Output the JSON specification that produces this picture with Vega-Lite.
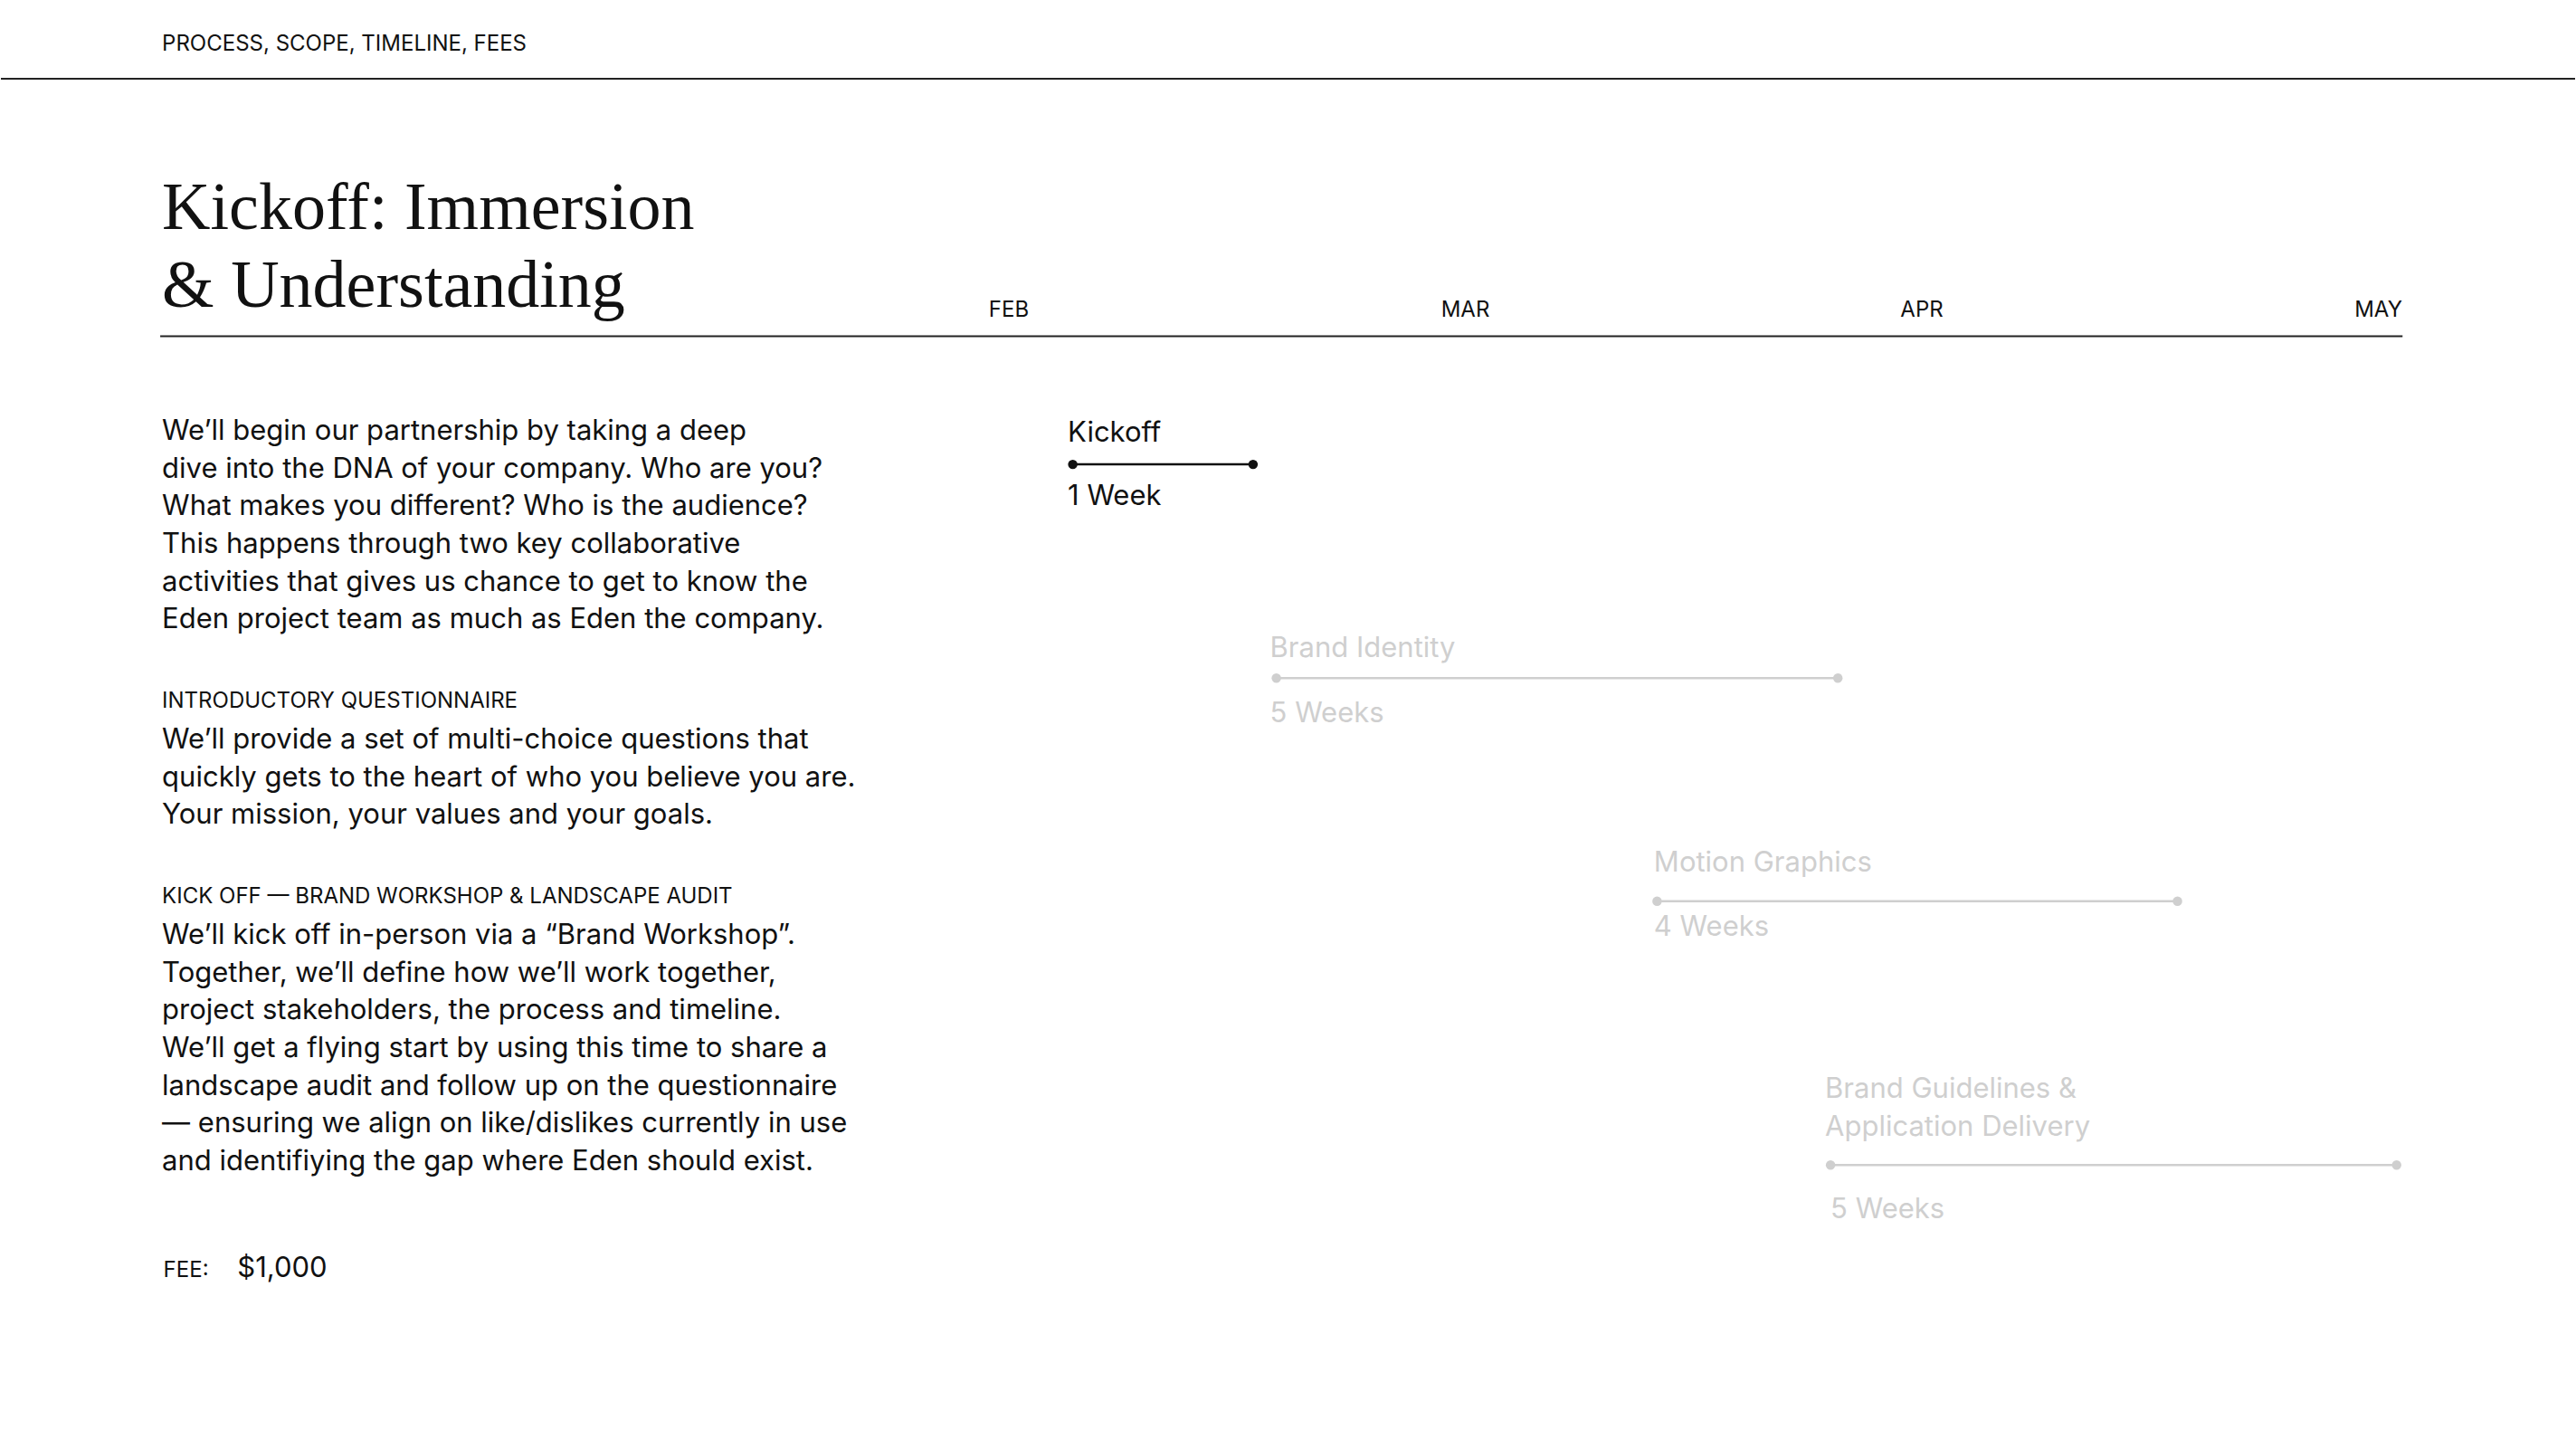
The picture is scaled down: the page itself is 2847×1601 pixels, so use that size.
{
"$schema":"https://vega.github.io/schema/vega-lite/v6.json",
"width":2847,"height":1601,"padding":0,
"autosize":{"type":"fit","contains":"padding"},
"config":{"view":{"stroke":null},"text":{"font":"Inter"}},
"datasets":{
"body":[
{"x":-1.855,"y":29.8,"t":"We’ll  begin our partnership by taking a deep"},
{"x":-1.855,"y":32.4,"t":"dive into the DNA of your company. Who are you?"},
{"x":-1.855,"y":35.0,"t":"What makes you different? Who is the audience?"},
{"x":-1.855,"y":37.6,"t":"This happens through two key collaborative"},
{"x":-1.855,"y":40.2,"t":"activities that gives us chance to get to know the"},
{"x":-1.855,"y":42.8,"t":"Eden project team as much as Eden the company."},
{"x":-1.855,"y":51.1,"t":"We’ll provide a set of multi-choice questions that"},
{"x":-1.855,"y":53.7,"t":"quickly gets to the heart of who you believe you are."},
{"x":-1.855,"y":56.3,"t":"Your mission, your values and your goals."},
{"x":-1.855,"y":64.6,"t":"We’ll kick off in-person via a “Brand Workshop”."},
{"x":-1.855,"y":67.2,"t":"Together, we’ll define how we’ll work together,"},
{"x":-1.855,"y":69.8,"t":"project stakeholders, the process and timeline."},
{"x":-1.855,"y":72.4,"t":"We’ll get a flying start by using this time to share a"},
{"x":-1.855,"y":75.0,"t":"landscape audit and follow up on the questionnaire"},
{"x":-1.855,"y":77.6,"t":"— ensuring we align on like/dislikes currently in use"},
{"x":-1.855,"y":80.2,"t":"and identifiying the gap where Eden should exist."},
{"x":-1.690,"y":87.6,"t":"$1,000"}
],
"caps":[
{"x":-1.855,"y":3.06,"t":"PROCESS, SCOPE, TIMELINE, FEES"},
{"x":-1.855,"y":48.4,"t":"INTRODUCTORY QUESTIONNAIRE"},
{"x":-1.855,"y":61.9,"t":"KICK OFF — BRAND WORKSHOP & LANDSCAPE AUDIT"},
{"x":-1.852,"y":87.7,"t":"FEE:"}
],
"months":[
{"x":0,"y":21.4,"t":"FEB"},
{"x":1,"y":21.4,"t":"MAR"},
{"x":2,"y":21.4,"t":"APR"},
{"x":3,"y":21.4,"t":"MAY"}
],
"tl":[
{"x":0.129,"y":29.9,"t":"Kickoff","s":"active"},
{"x":0.129,"y":34.3,"t":"1 Week","s":"active"},
{"x":0.572,"y":44.8,"t":"Brand Identity","s":"inactive"},
{"x":0.572,"y":49.3,"t":"5 Weeks","s":"inactive"},
{"x":1.413,"y":59.6,"t":"Motion Graphics","s":"inactive"},
{"x":1.413,"y":64.0,"t":"4 Weeks","s":"inactive"},
{"x":1.788,"y":75.2,"t":"Brand Guidelines &","s":"inactive"},
{"x":1.788,"y":77.8,"t":"Application Delivery","s":"inactive"},
{"x":1.80,"y":83.5,"t":"5 Weeks","s":"inactive"}
],
"bars":[
{"a":0.14,"b":0.535,"y":32.05,"s":"active"},
{"a":0.586,"b":1.816,"y":46.8,"s":"inactive"},
{"a":1.42,"b":2.56,"y":62.2,"s":"inactive"},
{"a":1.80,"b":3.04,"y":80.4,"s":"inactive"}
],
"rules":[
{"a":-2.208,"b":3.431,"y":5.44},
{"a":-1.859,"b":3.053,"y":23.2}
],
"title":[
{"x":-1.855,"y":14.4,"t":"Kickoff: Immersion"},
{"x":-1.855,"y":19.8,"t":"& Understanding"}
]
},
"layer":[
{"data":{"name":"rules"},"mark":{"type":"rule","color":"#222","strokeWidth":2},
 "encoding":{"x":{"field":"a","type":"quantitative","scale":{"domain":[-2.208,3.431],"nice":false,"zero":false},"axis":null},"x2":{"field":"b"},
 "y":{"field":"y","type":"quantitative","scale":{"domain":[0,100],"reverse":true,"nice":false},"axis":null}}},
{"data":{"name":"title"},"mark":{"type":"text","font":"Liberation Serif","fontSize":74,"align":"left","baseline":"middle","color":"#111"},
 "encoding":{"x":{"field":"x","type":"quantitative"},"y":{"field":"y","type":"quantitative"},"text":{"field":"t"}}},
{"data":{"name":"body"},"mark":{"type":"text","fontSize":31,"align":"left","baseline":"middle","color":"#111"},
 "encoding":{"x":{"field":"x","type":"quantitative"},"y":{"field":"y","type":"quantitative"},"text":{"field":"t"}}},
{"data":{"name":"caps"},"mark":{"type":"text","fontSize":24,"align":"left","baseline":"middle","color":"#111","letterSpacing":3.5},
 "encoding":{"x":{"field":"x","type":"quantitative"},"y":{"field":"y","type":"quantitative"},"text":{"field":"t"}}},
{"data":{"name":"months"},"mark":{"type":"text","fontSize":24,"align":"center","baseline":"middle","color":"#111","letterSpacing":3},
 "encoding":{"x":{"field":"x","type":"quantitative"},"y":{"field":"y","type":"quantitative"},"text":{"field":"t"}}},
{"data":{"name":"bars"},"mark":{"type":"rule","strokeWidth":2.5},
 "encoding":{"x":{"field":"a","type":"quantitative"},"x2":{"field":"b"},"y":{"field":"y","type":"quantitative"},
 "color":{"field":"s","type":"nominal","scale":{"domain":["active","inactive"],"range":["#111111","#cfcfcf"]},"legend":null}}},
{"data":{"name":"bars"},"mark":{"type":"point","filled":true,"size":110,"opacity":1},
 "encoding":{"x":{"field":"a","type":"quantitative"},"y":{"field":"y","type":"quantitative"},"color":{"field":"s","type":"nominal","legend":null}}},
{"data":{"name":"bars"},"mark":{"type":"point","filled":true,"size":110,"opacity":1},
 "encoding":{"x":{"field":"b","type":"quantitative"},"y":{"field":"y","type":"quantitative"},"color":{"field":"s","type":"nominal","legend":null}}},
{"data":{"name":"tl"},"mark":{"type":"text","fontSize":31,"align":"left","baseline":"middle"},
 "encoding":{"x":{"field":"x","type":"quantitative"},"y":{"field":"y","type":"quantitative"},"text":{"field":"t"},"color":{"field":"s","type":"nominal","legend":null}}}
]
}
